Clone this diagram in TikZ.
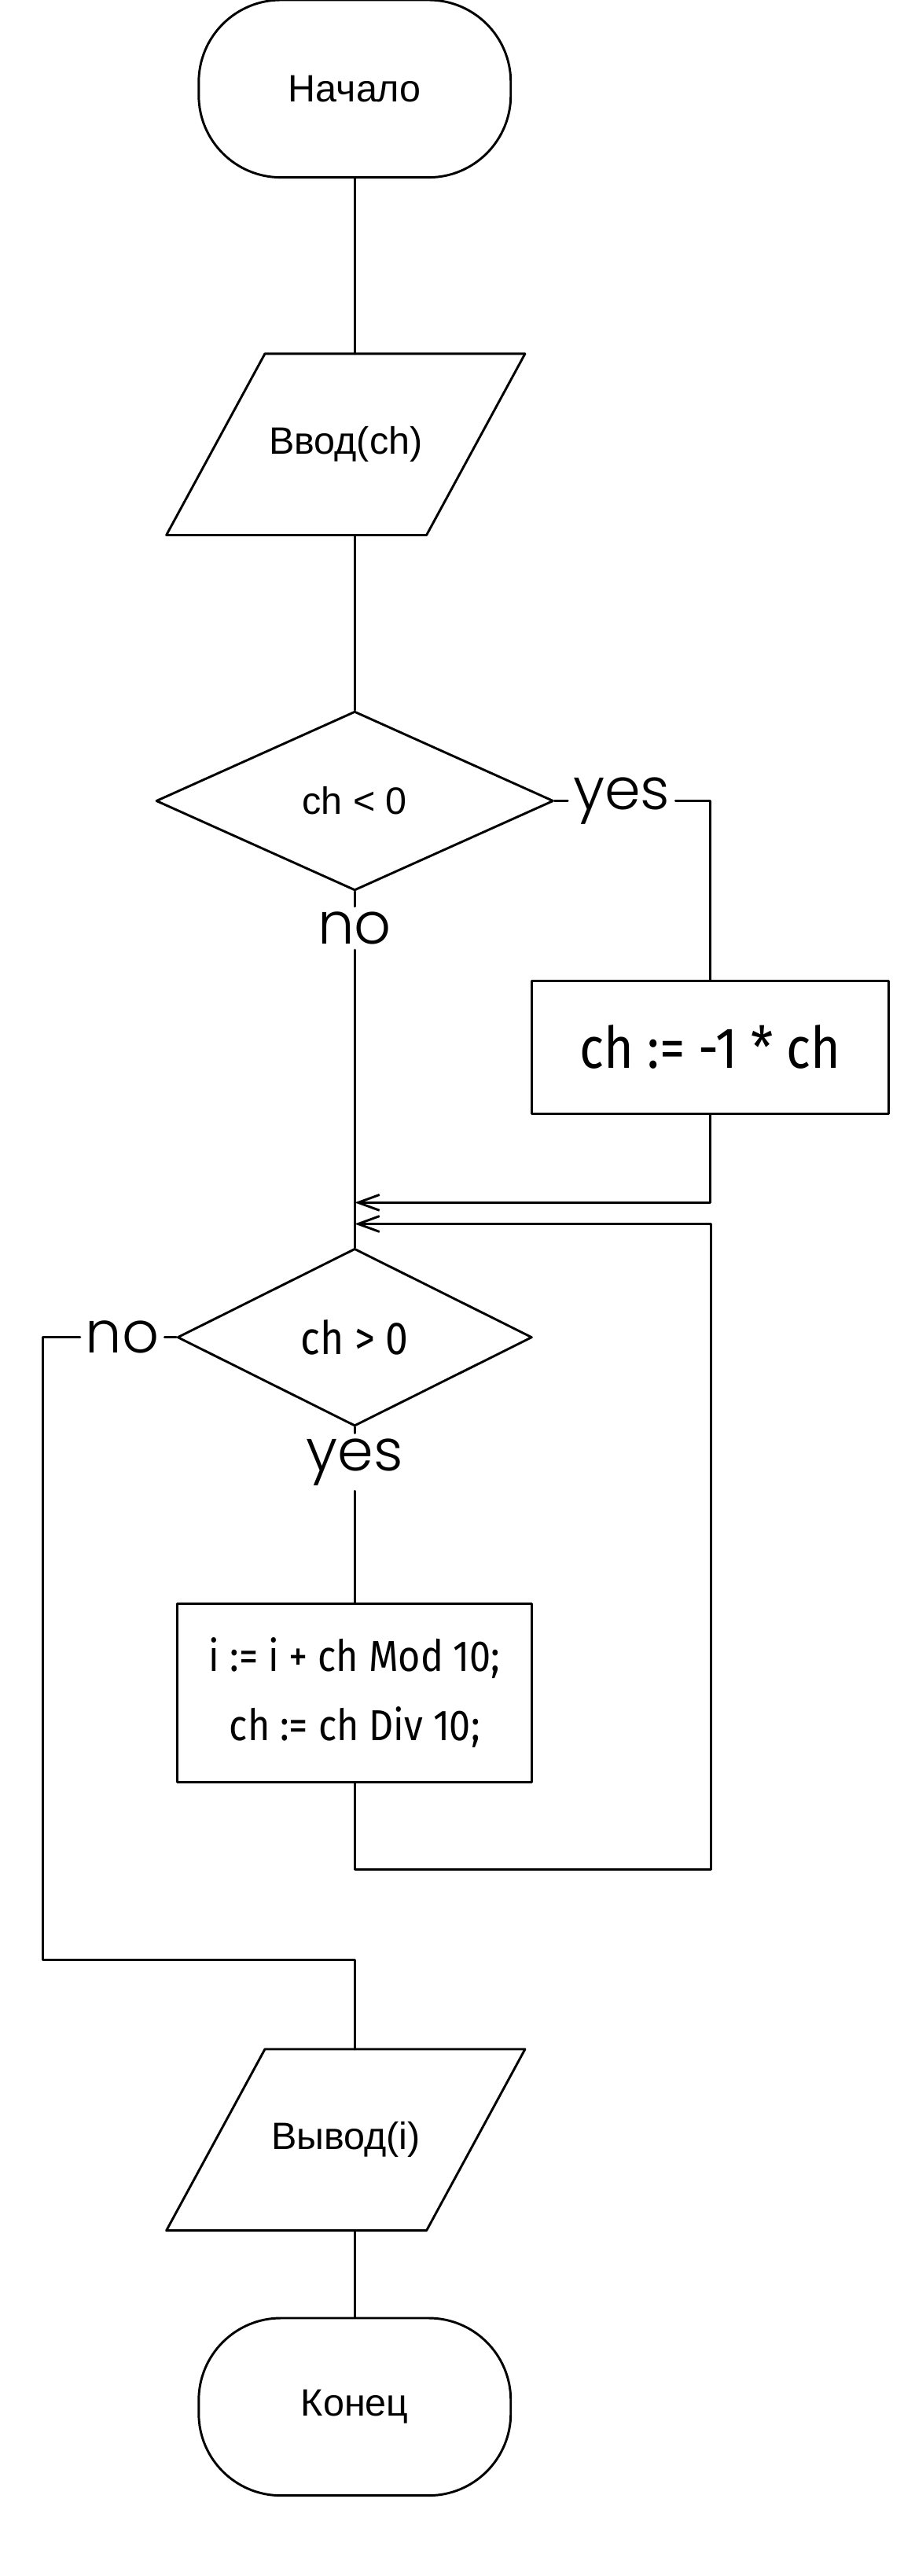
\documentclass[tikz,border=0pt]{standalone}
\usepackage{fontspec}
\setmainfont{Liberation Sans}
\newfontfamily\condfont[FakeStretch=0.88]{Fira Sans}
\newfontfamily\thinfont{Poppins Light}
\usetikzlibrary{shapes.geometric, arrows.meta}

\begin{document}
\begin{tikzpicture}[line cap=round, line join=round, line width=0.8pt,
    >={Straight Barb[length=2.6mm, width=1.9mm]},
    term/.style={draw, rounded corners=1cm, minimum width=3.8cm, minimum height=2.16cm, font=\fontsize{13.2}{15}\selectfont},
    io/.style={inner sep=0pt, minimum width=3.14cm, minimum height=2.18cm, font=\fontsize{13.2}{15}\selectfont},
    cond/.style={draw, diamond, inner sep=0pt},
    proc/.style={draw, align=center, inner sep=0pt},
    lbl/.style={inner sep=1.5pt, font=\thinfont\fontsize{20}{22}\selectfont}]

    % Page frame
    \useasboundingbox (0,0) rectangle (11.14,-31.36);

    % Start and input
    \node[term] (start) at (4.32,-1.08) {Начало};
    \node[io] (in) at (4.21,-5.41) {Ввод(ch)};

    % First test: sign of ch
    \node[cond, minimum width=4.84cm, minimum height=2.18cm, font=\fontsize{13.2}{15}\selectfont] (d1) at (4.32,-9.75) {ch < 0};
    \node[lbl] (yes1) at (7.57,-9.75) {yes};
    \node[lbl] (no1) at (4.32,-11.3) {no};
    \node[proc, minimum width=4.34cm, minimum height=1.62cm, font=\condfont\fontsize{20}{24}\selectfont] (b1) at (8.65,-12.75) {ch := -1 * ch};

    % Merge points on the main line
    \coordinate (m1) at (4.32,-14.64);
    \coordinate (m2) at (4.32,-14.9);

    % Loop test and body
    \node[cond, minimum width=4.32cm, minimum height=2.16cm, font=\condfont\fontsize{16}{20}\selectfont] (d2) at (4.32,-16.28) {ch > 0};
    \node[lbl] (no2) at (1.49,-16.28) {no};
    \node[lbl] (yes2) at (4.32,-17.8) {yes};
    \node[proc, minimum width=4.32cm, minimum height=2.18cm, font=\condfont\fontsize{15}{24}\selectfont] (b2) at (4.32,-20.61) {i := i + ch Mod 10;\\ch := ch Div 10;};

    % Corners of the return and exit lines
    \coordinate (back) at (8.66,-22.76);
    \coordinate (exit) at (0.52,-23.86);

    % Output and end
    \node[io] (out) at (4.21,-26.05) {Вывод(i)};
    \node[term] (stop) at (4.32,-29.3) {Конец};

    % Parallelogram outlines of the input/output nodes
    \foreach \n in {in, out}
        \draw ([xshift=0.6cm]\n.north west) -- ([xshift=0.6cm]\n.north east)
            -- ([xshift=-0.6cm]\n.south east) -- ([xshift=-0.6cm]\n.south west) -- cycle;

    % Connectors
    \draw (start.south) -- (start.south |- in.north);
    \draw (in.south -| start) -- (d1.north);
    \draw (d1.east) -- (yes1.west);
    \draw (yes1.east) -| (b1.north);
    \draw (d1.south) -- (no1.north);
    \draw (no1.south) -- (d2.north);
    \draw[->] (b1.south) |- (m1);
    \draw[->] (b2.south) |- (back) |- (m2);
    \draw (d2.south) -- (yes2.north);
    \draw (yes2.south) -- (b2.north);
    \draw (d2.west) -- (no2.east);
    \draw (no2.west) -| (exit) -| (out.north -| start);
    \draw (out.south -| start) -- (stop.north);
\end{tikzpicture}
\end{document}
